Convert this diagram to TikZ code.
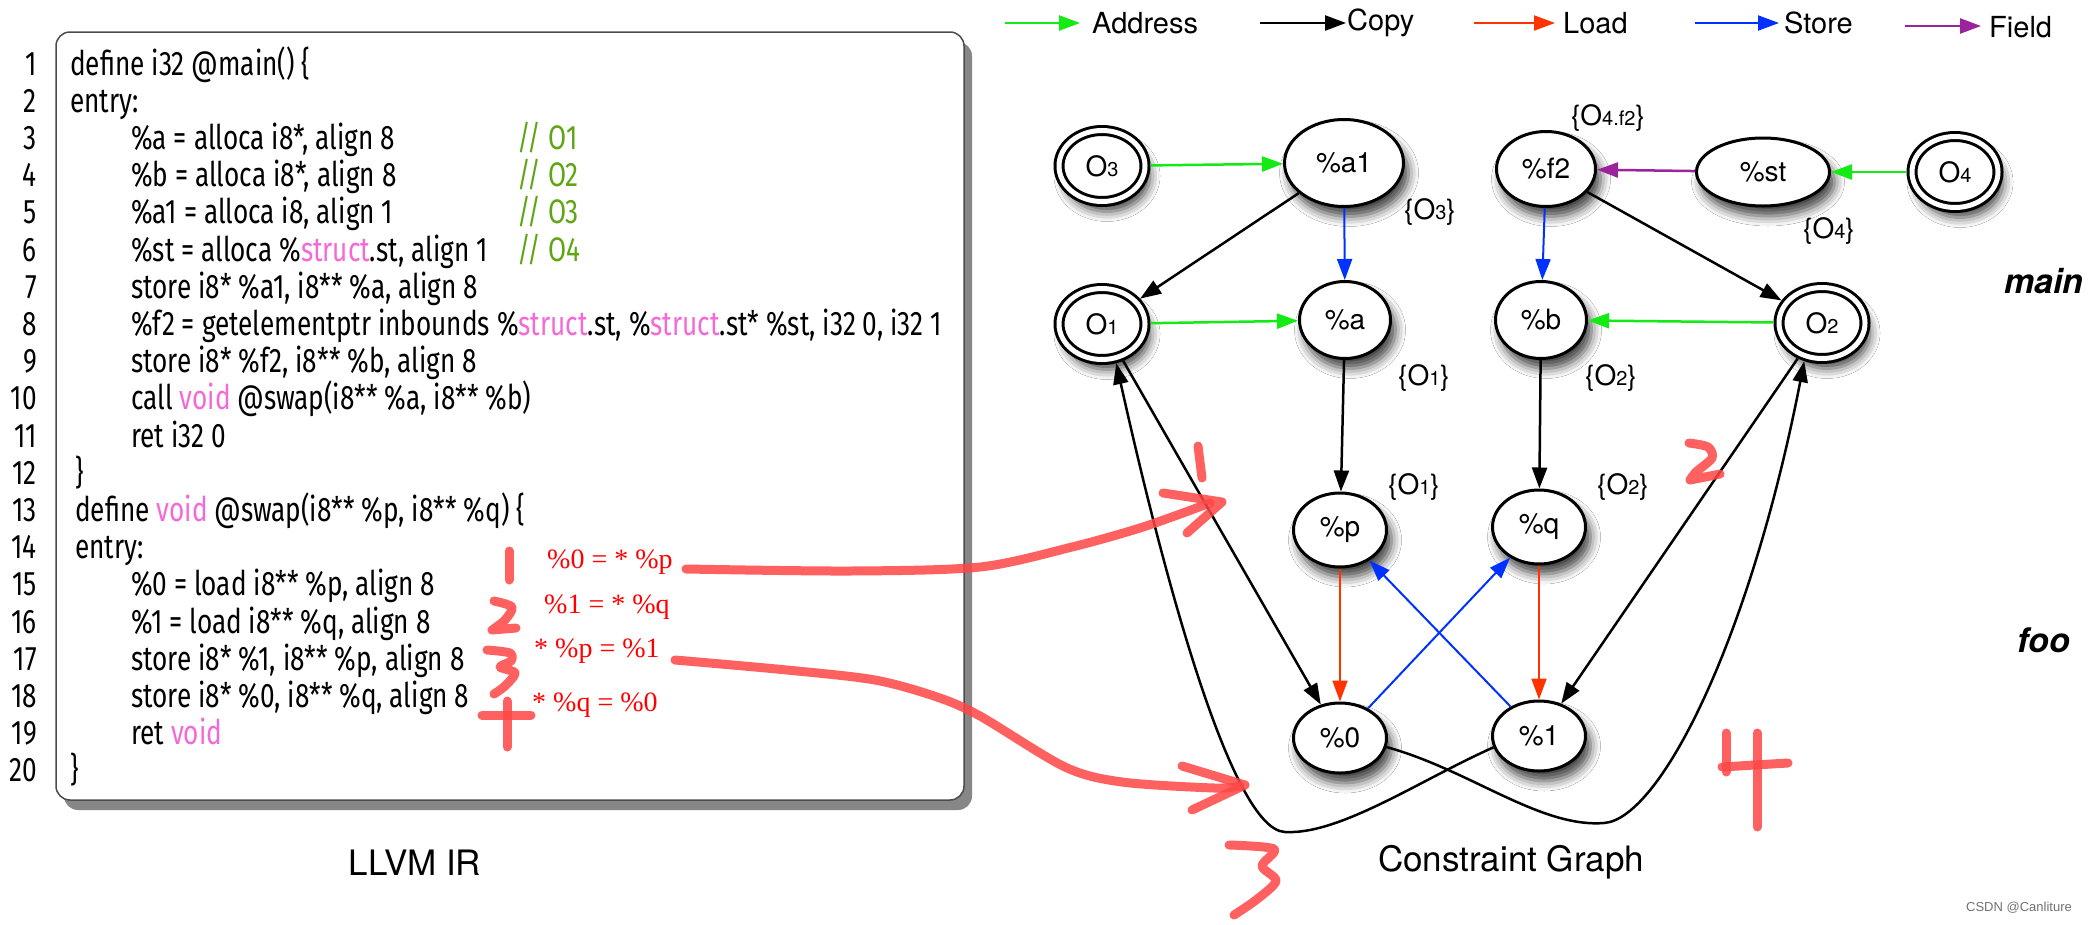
\documentclass[tikz,border=0pt]{standalone}
\usepackage{fontspec}
\usetikzlibrary{arrows.meta,shapes.geometric,shadows.blur}
\newfontfamily\gfont{TeX Gyre Heros}
\newfontfamily\cfont[FakeStretch=0.77]{Fira Sans}
\newfontfamily\rfont{Liberation Serif}
\newfontfamily\wfont{Liberation Sans}
\definecolor{addrc}{RGB}{20,235,20}
\definecolor{loadc}{RGB}{255,50,0}
\definecolor{storec}{RGB}{0,50,255}
\definecolor{fieldc}{RGB}{155,35,155}
\definecolor{pinkc}{RGB}{245,105,215}
\definecolor{cmtc}{RGB}{95,165,20}
\definecolor{hand}{RGB}{255,70,70}
\newcommand\pk[1]{\textcolor{pinkc}{#1}}
\newcommand\Osub[1]{O{\fontsize{20}{20}\selectfont #1}}
\tikzset{
  gnode/.style={ellipse, draw, line width=3pt, fill=white, inner sep=0pt,
    font=\gfont\fontsize{28}{28}\selectfont,
    blur shadow={shadow xshift=5pt, shadow yshift=-10pt, shadow blur radius=10pt, shadow opacity=75}},
  onode/.style={gnode, double, double distance=5pt, minimum width=86pt, minimum height=71pt, outer sep=5.5pt},
  basee/.style={line width=2.5pt, -{Triangle[length=21pt,width=15pt]}},
  addrE/.style={basee, draw=addrc},
  copyE/.style={basee, draw=black},
  loadE/.style={basee, line width=2pt, draw=loadc},
  storeE/.style={basee, line width=2pt, draw=storec},
  fieldE/.style={basee, draw=fieldc},
  lbl/.style={font=\gfont\fontsize{28}{28}\selectfont, inner sep=0pt},
  legend/.style={font=\gfont\fontsize{29}{29}\selectfont, inner sep=0pt, anchor=west},
  code/.style={font=\cfont\fontsize{34}{34}\selectfont, inner sep=0pt, anchor=base west},
  lnum/.style={font=\cfont\fontsize{34}{34}\selectfont, inner sep=0pt, anchor=base east},
  cmt/.style={code, text=cmtc},
  note/.style={font=\rfont\fontsize{28}{28}\selectfont, text=red, inner sep=0pt, anchor=west},
  handline/.style={draw=hand, line width=9pt, line cap=round, line join=round, opacity=0.85},
  caption/.style={font=\gfont\fontsize{35}{35}\selectfont, inner sep=0pt},
  fn/.style={font=\gfont\bfseries\itshape\fontsize{34}{34}\selectfont, inner sep=0pt}
}
\begin{document}
\begin{tikzpicture}[x=1pt,y=-1pt]
\useasboundingbox (0,0) rectangle (2088,924);
\fill[white] (0,0) rectangle (2088,924);
% ---------- code box ----------
\fill[black!47, rounded corners=14pt] (64,42) rectangle (972,810);
\draw[line width=1.5pt, draw=black!70, fill=white, rounded corners=14pt] (56,32) rectangle (964,800);
\foreach \k in {1,...,20} {
  \node[lnum] (ln\k) at (37, {75+(\k-1)*37.2}) {\k};
}
\node[code] (c1) at (70, 75) {define i32 @main() \{};
\node[code] (c2) at (70, 112.2) {entry:};
\node[code] (c3) at (131, 149.4) {\%a = alloca i8*, align 8};
\node[code] (c4) at (131, 186.6) {\%b = alloca i8*, align 8};
\node[code] (c5) at (131, 223.8) {\%a1 = alloca i8, align 1};
\node[code] (c6) at (131, 261) {\%st = alloca \%\pk{struct}.st, align 1};
\node[code] (c7) at (131, 298.2) {store i8* \%a1, i8** \%a, align 8};
\node[code] (c8) at (131, 335.4) {\%f2 = getelementptr inbounds \%\pk{struct}.st, \%\pk{struct}.st* \%st, i32 0, i32 1};
\node[code] (c9) at (131, 372.6) {store i8* \%f2, i8** \%b, align 8};
\node[code] (c10) at (131, 409.8) {call \pk{void} @swap(i8** \%a, i8** \%b)};
\node[code] (c11) at (131, 447) {ret i32 0};
\node[code] (c12) at (75, 484.2) {\}};
\node[code] (c13) at (75, 521.4) {define \pk{void} @swap(i8** \%p, i8** \%q) \{};
\node[code] (c14) at (75, 558.6) {entry:};
\node[code] (c15) at (131, 595.8) {\%0 = load i8** \%p, align 8};
\node[code] (c16) at (131, 633) {\%1 = load i8** \%q, align 8};
\node[code] (c17) at (131, 670.2) {store i8* \%1, i8** \%p, align 8};
\node[code] (c18) at (131, 707.4) {store i8* \%0, i8** \%q, align 8};
\node[code] (c19) at (131, 744.6) {ret \pk{void}};
\node[code] (c20) at (70, 781.8) {\}};
\node[cmt] (k3) at (517, 149.4) {// O1};
\node[cmt] (k4) at (517, 186.6) {// O2};
\node[cmt] (k5) at (517, 223.8) {// O3};
\node[cmt] (k6) at (517, 261) {// O4};
% ---------- legend ----------
\coordinate (lg1a) at (1005,23); \coordinate (lg1b) at (1080,23);
\coordinate (lg2a) at (1260,23); \coordinate (lg2b) at (1346,23);
\coordinate (lg3a) at (1474,23); \coordinate (lg3b) at (1555,23);
\coordinate (lg4a) at (1695,23); \coordinate (lg4b) at (1779,23);
\coordinate (lg5a) at (1905,26); \coordinate (lg5b) at (1981,26);
\draw[addrE] (lg1a) -- (lg1b);
\draw[copyE] (lg2a) -- (lg2b);
\draw[loadE] (lg3a) -- (lg3b);
\draw[storeE] (lg4a) -- (lg4b);
\draw[fieldE] (lg5a) -- (lg5b);
\node[legend] (lgA) at (1092,23) {Address};
\node[legend] (lgC) at (1347,23) {Copy};
\node[legend] (lgL) at (1563,23) {Load};
\node[legend] (lgS) at (1784,23) {Store};
\node[legend] (lgF) at (1989,27) {Field};
% ---------- graph nodes ----------
\node[onode] (O3) at (1102,166) {\Osub{3}};
\node[gnode, minimum width=119pt, minimum height=87pt] (a1) at (1344,163) {\%a1};
\node[gnode, minimum width=99pt, minimum height=75pt] (f2) at (1546,169) {\%f2};
\node[gnode, minimum width=133pt, minimum height=68pt] (st) at (1763,172) {\%st};
\node[onode] (O4) at (1955,172) {\Osub{4}};
\node[onode] (O1) at (1102,324) {\Osub{1}};
\node[gnode, minimum width=91pt, minimum height=77pt] (a) at (1345,320) {\%a};
\node[gnode, minimum width=91pt, minimum height=77pt] (b) at (1541,320) {\%b};
\node[onode] (O2) at (1822,323) {\Osub{2}};
\node[gnode, minimum width=93pt, minimum height=74pt] (p) at (1340,530) {\%p};
\node[gnode, minimum width=93pt, minimum height=74pt] (q) at (1539,527) {\%q};
\node[gnode, minimum width=93pt, minimum height=70pt] (n0) at (1340,738) {\%0};
\node[gnode, minimum width=93pt, minimum height=70pt] (n1) at (1539,736) {\%1};
% ---------- labels ----------
\node[lbl] (s3) at (1430,212) {\{\Osub{3}\}};
\node[lbl] (s4f) at (1608,118) {\{\Osub{4.f2}\}};
\node[lbl] (s4) at (1829,231) {\{\Osub{4}\}};
\node[lbl] (sa) at (1424,378) {\{\Osub{1}\}};
\node[lbl] (sb) at (1611,378) {\{\Osub{2}\}};
\node[lbl] (sp) at (1414,487) {\{\Osub{1}\}};
\node[lbl] (sq) at (1623,487) {\{\Osub{2}\}};
\node[fn] (main) at (2044,281) {main};
\node[fn] (foo) at (2044,640) {foo};
\node[caption] (capL) at (415,863) {LLVM IR};
\node[caption] (capG) at (1511,862) {Constraint Graph};
\node[font=\wfont\fontsize{13}{13}\selectfont, text=black!55, inner sep=0pt] (wm) at (2019,908) {CSDN @Canliture};
% ---------- edges ----------
\draw[addrE] (O3) -- (a1);
\draw[copyE] (a1) -- (O1);
\draw[storeE] (a1) -- (a);
\draw[fieldE] (st) -- (f2);
\draw[addrE] (O4) -- (st);
\draw[storeE] (f2) -- (b);
\draw[copyE] (f2) -- (O2);
\draw[addrE] (O1) -- (a);
\draw[addrE] (O2) -- (b);
\draw[copyE] (a) -- (p);
\draw[copyE] (b) -- (q);
\draw[copyE] (O1) -- (n0);
\draw[copyE] (O2) -- (n1);
\draw[loadE] (p) -- (n0);
\draw[loadE] (q) -- (n1);
\draw[storeE] (n0) -- (q);
\draw[storeE] (n1) -- (p);
\draw[copyE] (n1.194) .. controls (1420,780) and (1340,835) .. (1285,832)
   .. controls (1230,830) and (1160,560) .. (O1.290);
\draw[copyE] (n0.349) .. controls (1470,770) and (1540,828) .. (1604,823)
   .. controls (1660,819) and (1750,640) .. (O2.245);
% ---------- handwritten notes ----------
\node[note] (r1) at (547,562) {\%0 = * \%p};
\node[note] (r2) at (544,607) {\%1 = * \%q};
\node[note] (r3) at (534,651) {* \%p = \%1};
\node[note] (r4) at (532,705) {* \%q = \%0};
\draw[handline] (509,551) -- (509,580);
\draw[handline] plot[smooth] coordinates {(494,601) (512,607) (505,620) (492,630)} -- (516,628);
\draw[handline] plot[smooth] coordinates {(487,650) (510,653) (511,661) (500,667) (515,673) (505,686) (494,694)};
\draw[handline] (507,701) -- (507,747);
\draw[handline] (482,715) -- (531,715);
\draw[handline] plot[smooth] coordinates {(686,569) (850,571) (980,567) (1072,547) (1143,527) (1210,503)};
\draw[handline] (1163,493) -- (1222,502) -- (1187,533);
\draw[handline] (1198,446) -- (1202,478);
\draw[handline] plot[smooth] coordinates {(675,660) (787,670) (875,680) (937,697) (980,716) (1065,767) (1122,782) (1214,788) (1240,786)};
\draw[handline] (1182,766) -- (1245,785) -- (1192,810);
\draw[handline] plot[smooth] coordinates {(1229,845) (1274,849) (1262,866) (1276,881) (1256,900) (1234,915)};
\draw[handline] (1726,733) -- (1726,772);
\draw[handline] (1757,733) -- (1757,827);
\draw[handline] (1722,767) -- (1788,763);
\draw[handline] plot[smooth] coordinates {(1689,443) (1708,447) (1712,458) (1696,472) (1690,480)} -- (1720,474);
\end{tikzpicture}
\end{document}
